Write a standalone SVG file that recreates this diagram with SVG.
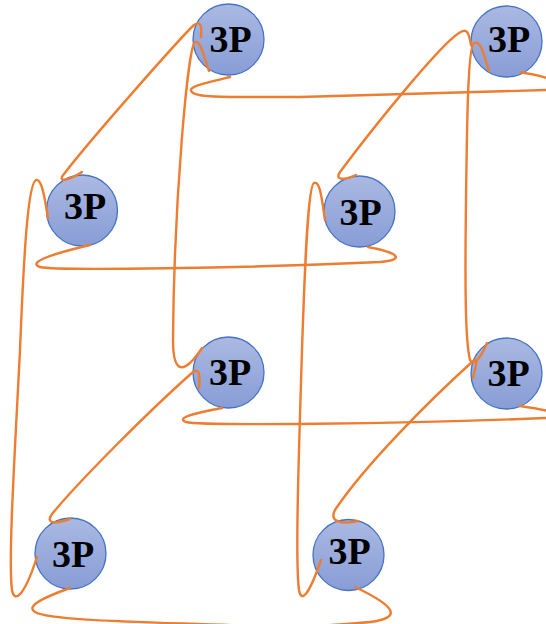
<svg xmlns="http://www.w3.org/2000/svg" width="546" height="624" viewBox="0 0 546 624">
<defs>
<linearGradient id="g" x1="0" y1="0" x2="0" y2="1">
<stop offset="0" stop-color="#abb9e2"/>
<stop offset="1" stop-color="#889dd6"/>
</linearGradient>
<style>
.n{fill:url(#g);stroke:#4472c4;stroke-width:1.3}
.t{font-family:"Liberation Serif","Times New Roman",serif;font-weight:bold;font-size:38px;fill:#000;text-anchor:middle}
.c{fill:none;stroke:#ed7d31;stroke-width:2.4;stroke-linecap:round;stroke-linejoin:round}
</style>
</defs>
<rect width="546" height="624" fill="#fff"/>
<g id="nA"><circle class="n" cx="228.5" cy="39.5" r="35.5"/><text class="t" x="230.5" y="51.5">3P</text></g>
<g id="nB"><circle class="n" cx="506.5" cy="41.5" r="35.5"/><text class="t" x="509" y="51.5">3P</text></g>
<g id="nC"><circle class="n" cx="82" cy="210.5" r="35.5"/><text class="t" x="85" y="219">3P</text></g>
<g id="nD"><circle class="n" cx="359.5" cy="211.5" r="35.5"/><text class="t" x="360.5" y="224.5">3P</text></g>
<g id="nE"><circle class="n" cx="228.5" cy="372.5" r="35.5"/><text class="t" x="230" y="385">3P</text></g>
<g id="nF"><circle class="n" cx="506.5" cy="373.5" r="35.5"/><text class="t" x="508.5" y="385.5">3P</text></g>
<g id="nG"><circle class="n" cx="70.5" cy="553.5" r="35.5"/><text class="t" x="73" y="567">3P</text></g>
<g id="nH"><circle class="n" cx="348.5" cy="555" r="35.5"/><text class="t" x="349.5" y="564">3P</text></g>
<g id="connectors">
<path class="c" d="M 201 37 C 202 27, 201 20, 194 25 C 180 38, 90 140, 64 174 C 57 182, 66 182, 82 172"/>
<path class="c" d="M 209 71 C 204 58, 201 40, 195 42 C 188 46, 174 200, 173 340 C 173 378, 186 372, 202 348"/>
<path class="c" d="M 230 77 C 205 83, 186 87, 192 92 C 196 98, 230 97, 300 97 L 546 90 C 575 89, 565 80, 520 72"/>
<path class="c" d="M 471 45 C 469 33, 467 27, 459 33 C 440 45, 375 125, 340 172 C 334 181, 345 180, 356 175"/>
<path class="c" d="M 489 71 C 484 55, 481 40, 474 43 C 468 46, 467 120, 466 200 C 465 280, 465 340, 470 360 C 473 366, 480 360, 487 343"/>
<path class="c" d="M 48 218 C 45 200, 42 178, 36 180 C 28 184, 24 250, 20 350 C 15 450, 8 560, 12 590 C 14 602, 23 600, 37 557"/>
<path class="c" d="M 90 245 C 60 252, 25 262, 40 267 C 55 271, 250 268, 380 262 C 405 260, 400 253, 368 247"/>
<path class="c" d="M 325 220 C 322 200, 320 180, 314 183 C 308 186, 305 260, 302 350 C 299 450, 295 560, 299 590 C 301 602, 308 598, 321 560"/>
<path class="c" d="M 199 388 C 200 378, 200 367, 193 372 C 150 410, 80 480, 52 514 C 45 524, 55 524, 70 519"/>
<path class="c" d="M 222 408 C 195 413, 175 418, 186 422 C 200 426, 400 424, 546 418 C 575 417, 560 412, 520 406"/>
<path class="c" d="M 473 378 C 475 368, 480 355, 472 362 C 430 400, 365 465, 335 510 C 329 521, 340 525, 358 521"/>
<path class="c" d="M 70 588 C 45 597, 25 606, 35 612 C 50 621, 150 622, 240 625.5 C 290 628, 330 626, 370 622 C 402 618, 397 607, 355 587"/>
</g>
</svg>
